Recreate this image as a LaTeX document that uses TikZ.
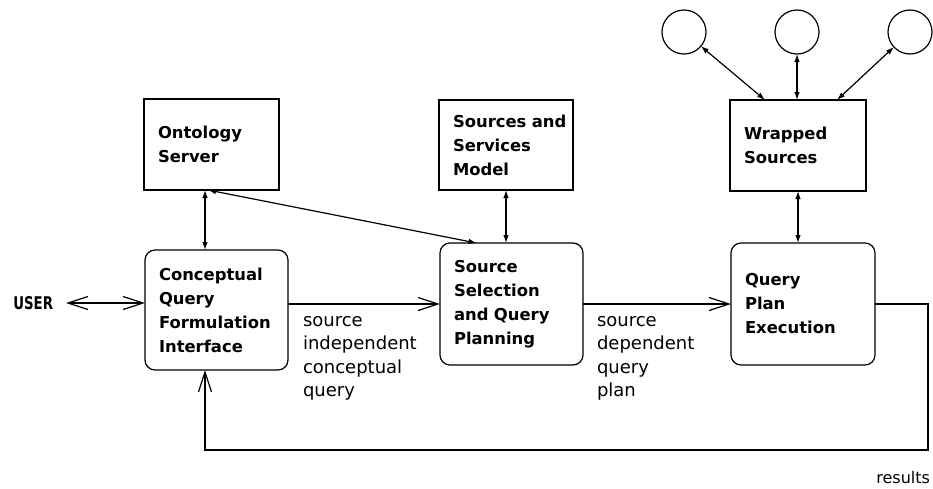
\documentclass[tikz,border=0pt]{standalone}
\usepackage{fontspec}
\usepackage{graphicx}
\setmainfont{DejaVu Sans}
\usetikzlibrary{arrows.meta,calc}

\tikzset{
  every node/.style={inner sep=0pt, outer sep=0pt},
  lbl/.style={font=\fontsize{18}{23.5}\selectfont, align=left, anchor=north west},
  boxfont/.style={font=\bfseries\fontsize{16.4}{24}\selectfont},
  sqbox/.style={draw, line width=1.2pt, boxfont, align=left, inner xsep=14pt, inner ysep=0pt},
  rdbox/.style={sqbox, rounded corners=10pt},
  srcnode/.style={draw, circle, line width=1.2pt, minimum size=44pt},
  dbl/.style={line width=1.2pt, {Latex[length=8pt,width=5.5pt]}-{Latex[length=8pt,width=5.5pt]}},
  openbarb/.tip={Straight Barb[length=20pt,width=13pt,line width=1.2pt]},
  flow/.style={line width=1.2pt, -{openbarb}},
  flowdbl/.style={line width=1.2pt, {openbarb}-{openbarb}}
}

\begin{document}
\begin{tikzpicture}[x=1pt,y=-1pt]
  \useasboundingbox (0,0) rectangle (933,488);

  % upper row: knowledge and source boxes
  \node[sqbox, text width=107pt, minimum height=91pt] (onto) at (211.5,144.5) {Ontology\\Server};
  \node[sqbox, text width=106pt, minimum height=90pt] (ssm) at (506,145) {Sources~and\\Services\\Model};
  \node[sqbox, text width=108pt, minimum height=91pt] (wrap) at (798,145.5) {Wrapped\\Sources};

  % information sources
  \node[srcnode] (c1) at (684,32) {};
  \node[srcnode] (c2) at (797,32) {};
  \node[srcnode] (c3) at (910,32) {};

  % lower row: processing stages
  \node[rdbox, text width=115pt, minimum height=120pt] (cq) at (216.5,310) {Conceptual\\Query\\Formulation\\Interface};
  \node[rdbox, text width=115pt, minimum height=122pt] (ssqp) at (511.5,304) {Source\\Selection\\and~Query\\Planning};
  \node[rdbox, text width=116pt, minimum height=122pt] (qpe) at (803,304) {Query\\Plan\\Execution};

  % user
  \node[font=\bfseries\fontsize{17.5}{20}\selectfont, anchor=east] (user) at (53,303) {\scalebox{0.76}[1]{USER}};
  \draw[flowdbl] ($(user.east)+(13,0)$) -- (cq.west |- user.east);

  % links to the knowledge boxes
  \draw[dbl] ($(onto.south)+(-6.5,0)$) coordinate (oa) -- (oa |- cq.north);
  \draw[dbl] ($(onto.south)+(-3.5,0)$) -- ($(ssqp.north)+(-35,0)$);
  \draw[dbl] (ssm.south) -- (ssm.south |- ssqp.north);
  \draw[dbl] (wrap.south) -- (wrap.south |- qpe.north);

  % links to the sources
  \draw[dbl] (c1) -- ($(wrap.north west)+(35,0)$);
  \draw[dbl] (c2.south) -- (c2.south |- wrap.north);
  \draw[dbl] (c3) -- ($(wrap.north west)+(107,0)$);

  % query flow
  \draw[flow] (ssqp.west -| cq.east) -- (ssqp.west);
  \draw[flow] (ssqp.east) -- (qpe.west);
  \coordinate (rc) at (928,450);
  \draw[flow] (qpe.east) -| (rc) -| ($(cq.south)+(-11.5,0)$);

  % flow labels
  \node[lbl] (l1) at (303,316) {source\\independent\\conceptual\\query};
  \node[lbl] (l2) at (597,316) {source\\dependent\\query\\plan};
  \node[font=\fontsize{16}{18}\selectfont, anchor=east] (res) at (930,478) {results};
\end{tikzpicture}
\end{document}
